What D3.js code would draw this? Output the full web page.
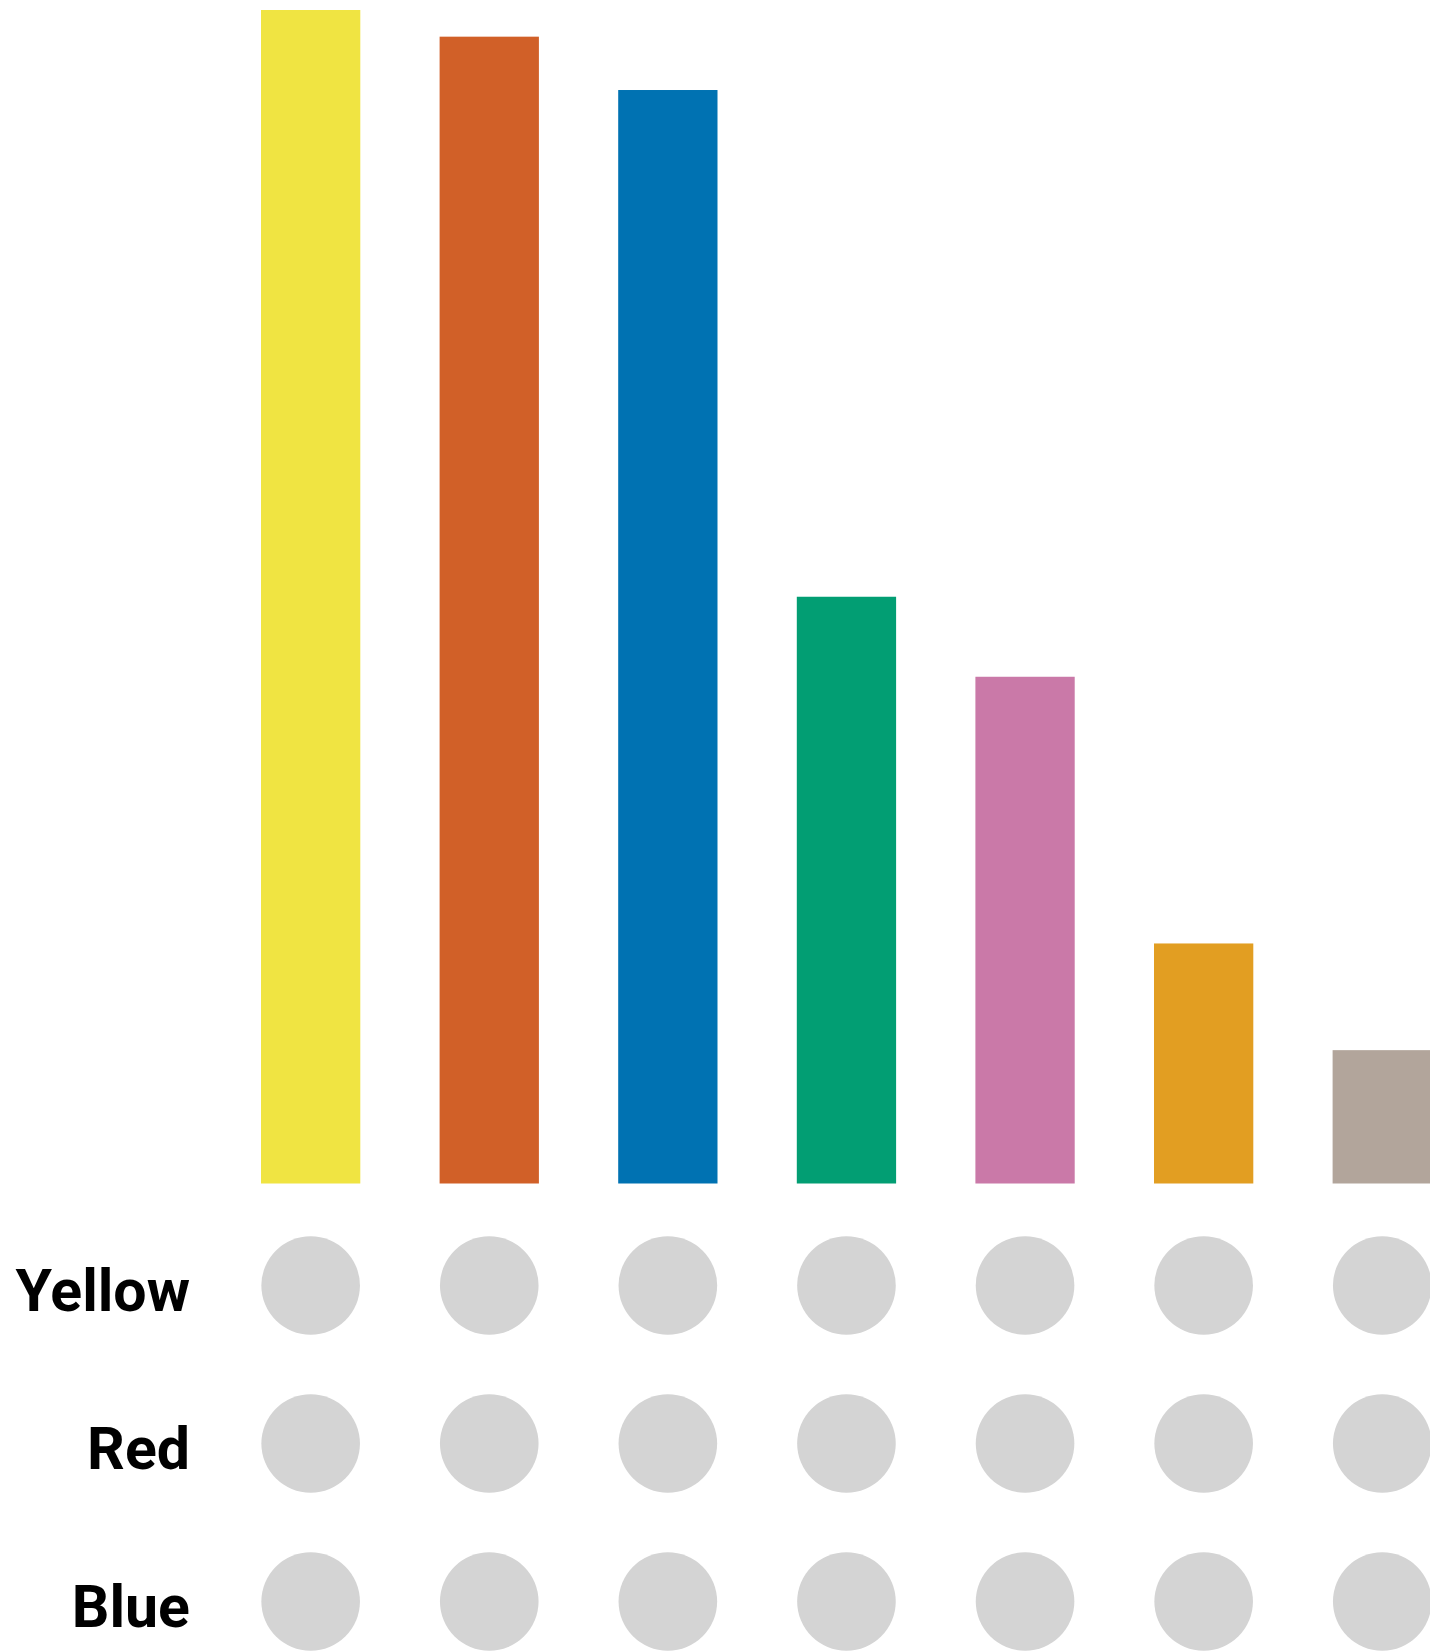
<!DOCTYPE html>
<html>
<head>
<meta charset="utf-8">
<script src="https://cdn.jsdelivr.net/npm/d3@7"></script>
<style>
  html, body { margin: 0; padding: 0; background: #fff; }
  svg { display: block; }
</style>
</head>
<body>
<svg id="chart" width="1430" height="1651"></svg>
<script>
const combos = ["c1", "c2", "c3", "c4", "c5", "c6", "c7"];
const counts = [88, 86, 82, 44, 38, 18, 10];
const barColors = ["#F0E442", "#D16028", "#0072B2", "#029E73", "#CA79A8", "#E29E22", "#B2A59B"];
const sets = ["Yellow", "Red", "Blue"];

const svg = d3.select("#chart");

const x = d3.scaleBand()
  .domain(combos)
  .range([261, 261 + 178.6 * (7 - 0.444)])
  .paddingInner(0.444)
  .paddingOuter(0);

const y = d3.scaleLinear().domain([0, 88]).range([1183.5, 10]);

const rowY = d3.scalePoint().domain(sets).range([1285.5, 1601.5]);

svg.append("g").selectAll("rect")
  .data(combos)
  .join("rect")
  .attr("x", d => x(d))
  .attr("width", x.bandwidth())
  .attr("y", (d, i) => y(counts[i]))
  .attr("height", (d, i) => y(0) - y(counts[i]))
  .attr("fill", (d, i) => barColors[i]);

const dots = [];
sets.forEach(s => combos.forEach(c => dots.push({ s, c })));

svg.append("g").selectAll("circle")
  .data(dots)
  .join("circle")
  .attr("cx", d => x(d.c) + x.bandwidth() / 2)
  .attr("cy", d => rowY(d.s))
  .attr("r", 49.3)
  .attr("fill", "#d4d4d4");

svg.append("g").selectAll("text")
  .data(sets)
  .join("text")
  .attr("x", 190)
  .attr("y", d => rowY(d))
  .attr("dy", "0.43em")
  .attr("text-anchor", "end")
  .attr("font-family", "Roboto, 'Liberation Sans', Arial, sans-serif")
  .attr("font-weight", "bold")
  .attr("font-size", 59)
  .attr("fill", "#000")
  .text(d => d);
</script>
</body>
</html>
